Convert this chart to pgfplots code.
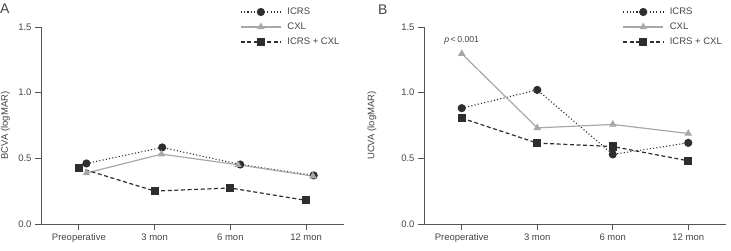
\documentclass[border=0pt]{standalone}
\usepackage{pgfplots}
\pgfplotsset{compat=1.18}
\usepackage{fontspec}
\setmainfont{Liberation Sans}
\definecolor{darkc}{HTML}{2E2E2E}
\definecolor{grayc}{HTML}{A8A8A8}
\definecolor{txtc}{HTML}{444444}
\definecolor{axc}{HTML}{555555}
\pgfplotsset{
  panel/.style={
    scale only axis, width=303pt, height=197pt,
    xmin=-0.5, xmax=3.5, ymin=0, ymax=1.5,
    axis x line=bottom, axis y line=left,
    axis line style={-, axc, line width=0.8pt},
    tick style={axc, line width=0.8pt},
    major tick length=6pt, tick align=outside,
    xtick={0,1,2,3},
    xticklabels={Preoperative,3 mon,6 mon,12 mon},
    ytick={0,0.5,1,1.5},
    yticklabel style={/pgf/number format/.cd, fixed, fixed zerofill, precision=1, assume math mode=true},
    ticklabel style={font=\fontsize{9.5}{11}\selectfont, text=txtc},
    legend cell align=left,
    legend image code/.code={\draw[mark repeat=2, mark phase=2] plot coordinates {(0pt,0pt) (20pt,0pt) (40pt,0pt)};},
    legend style={draw=none, fill=none, anchor=north west, font=\fontsize{9.5}{11}\selectfont, text=txtc,
      inner sep=0pt, row sep=6pt, column sep=4pt, nodes={inner ysep=0pt, text height=7pt, text depth=2pt}},
    every axis y label/.style={at={(rel axis cs:0,0.5)}, anchor=center, rotate=90, inner sep=0pt, font=\fontsize{9.5}{11}\selectfont, text=txtc},
  },
  s1/.style={darkc, line width=1.1pt, dash pattern=on 1.1pt off 2.2pt, mark=*, mark size=3.5pt, mark options={solid, fill=darkc, draw=darkc}},
  s2/.style={grayc, line width=1.2pt, mark=triangle*, mark size=3.2pt, mark options={solid, fill=grayc, draw=grayc}},
  s3/.style={darkc, line width=1.2pt, dash pattern=on 4pt off 2.6pt, mark=square*, mark size=3.5pt, mark options={solid, fill=darkc, draw=darkc}},
}
\begin{document}
\begin{tikzpicture}
\useasboundingbox (0,0) rectangle (731pt,250pt);
\begin{axis}[panel, at={(41pt,26pt)}, anchor=south west,
  legend style={at={(0.657,1.10)}},
  ylabel={BCVA (logMAR)},
  ylabel style={yshift=35.5pt}]
\addplot[s1] coordinates {(0.1,0.461) (1.1,0.583) (2.13,0.453) (3.1,0.370)};
\addlegendentry{ICRS}
\addplot[s2] coordinates {(0.1,0.388) (1.09,0.532) (2.1,0.451) (3.09,0.365)};
\addlegendentry{CXL}
\addplot[s3] coordinates {(0,0.428) (1,0.251) (2,0.274) (3,0.180)};
\addlegendentry{ICRS + CXL}
\end{axis}
\begin{axis}[panel, width=302pt, at={(424pt,26pt)}, anchor=south west,
  legend style={at={(0.657,1.10)}},
  ylabel={UCVA (logMAR)},
  ylabel style={yshift=52pt}]
\addplot[s1] coordinates {(0,0.882) (1,1.021) (2,0.530) (3,0.618)};
\addlegendentry{ICRS}
\addplot[s2] coordinates {(0,1.297) (1,0.732) (2,0.758) (3,0.689)};
\addlegendentry{CXL}
\addplot[s3] coordinates {(0,0.806) (1,0.616) (2,0.590) (3,0.481)};
\addlegendentry{ICRS + CXL}
\node[font=\fontsize{8.7}{10}\selectfont, text=txtc, inner sep=0pt] at (axis cs:0,1.40) {\textit{p}\,<\,0.001};
\end{axis}
\node[anchor=base west, inner sep=0pt, font=\fontsize{14}{16}\selectfont, text=txtc] at (0pt,237pt) {A};
\node[anchor=base west, inner sep=0pt, font=\fontsize{14}{16}\selectfont, text=txtc] at (378pt,236pt) {B};
\end{tikzpicture}
\end{document}
